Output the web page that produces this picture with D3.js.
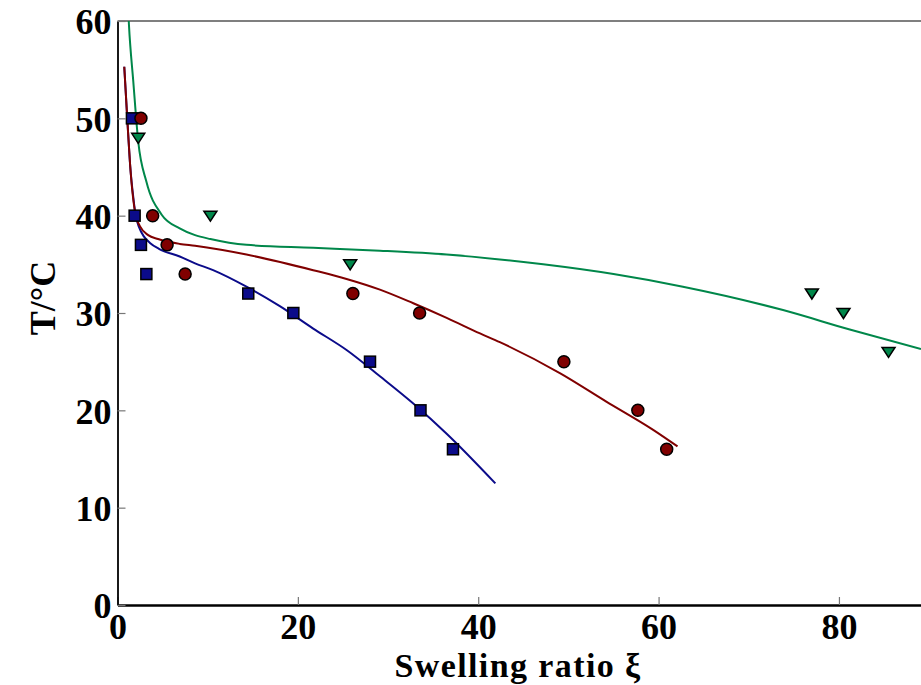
<!DOCTYPE html>
<html lang="en">
<head>
	<meta charset="utf-8">
	<title>Swelling ratio</title>
	<script src="https://d3js.org/d3.v7.min.js"></script>
	<style>
		body {
			margin: 0px;
			padding: 0px;
			background: #fff;
		}

		.tick text {
			font-family: "Liberation Serif", "Times New Roman", serif;
			font-weight: bold;
			font-size: 36px;
			fill: #000;
		}

		.tick line {
			stroke: #777;
			stroke-width: 1.2;
		}

		.axis-title {
			font-family: "Liberation Serif", "Times New Roman", serif;
			font-weight: bold;
			font-size: 36px;
			fill: #000;
		}

		.x-title {
			font-size: 34px;
			letter-spacing: 1.4px;
		}
	</style>
</head>
<body>
	<div id="chart"></div>
	<script>

		// Measured points (xi, T)
		var blueXi = [1.6, 1.9, 2.6, 3.2, 14.5, 19.5, 28.0, 33.6, 37.2];
		var blueT = [50, 40, 37, 34, 32, 30, 25, 20, 16];
		var redXi = [2.6, 3.9, 5.5, 7.5, 26.1, 33.5, 49.5, 57.7, 60.9];
		var redT = [50, 40, 37, 34, 32, 30, 25, 20, 16];
		var greenXi = [2.3, 10.3, 25.8, 77.0, 80.5, 85.5];
		var greenT = [48, 40, 35, 32, 30, 26];

		// Fitted curves
		var blueFitXi = [0.75, 1.1, 1.4, 1.8, 2.0, 2.4, 2.9, 3.6, 4.6, 6.9, 8.6, 10.6, 14.3, 18.0, 21.7, 25.4, 29.1, 32.8, 36.5, 41.9];
		var blueFitT = [55.3, 49.7, 45.2, 41.5, 40.1, 38.8, 37.9, 37.2, 36.6, 35.8, 35.1, 34.4, 32.7, 30.7, 28.4, 26.2, 23.5, 20.7, 17.6, 12.5];
		var redFitXi = [0.75, 1.1, 1.4, 2.0, 2.5, 3.4, 4.5, 6.9, 8.6, 14.3, 21.7, 25.4, 29.1, 32.8, 36.5, 40.2, 42.4, 49.1, 54.2, 59.4, 62.1];
		var redFitT = [55.3, 49.7, 45.2, 40.1, 38.9, 38.0, 37.6, 37.1, 36.9, 36.0, 34.4, 33.5, 32.4, 31.0, 29.5, 27.9, 27.0, 23.8, 20.9, 18.0, 16.3];
		var greenFitXi = [1.22, 1.27, 1.75, 2.3, 3.2, 4.9, 6.9, 8.6, 10.3, 14.3, 21.7, 29.1, 36.5, 42.4, 47.2, 55.0, 62.7, 73.8, 81.2, 89.1];
		var greenFitT = [60.5, 59.6, 53.8, 47.6, 43.5, 40.1, 38.7, 38.0, 37.6, 37.0, 36.7, 36.4, 36.0, 35.5, 35.0, 34.0, 32.7, 30.3, 28.3, 26.3];

		var xTicks = [0, 20, 40, 60, 80];
		var yTicks = [0, 10, 20, 30, 40, 50, 60];

		// Colors
		var color_blue = "#0b0b8a";
		var color_red = "#800000";
		var color_green = "#00874a";

		var width = 921,
			height = 685;
		var plot = { left: 117.5, right: 921, top: 21, bottom: 605 };

		var svg = d3.select("#chart").append("svg")
			.attr("width", width)
			.attr("height", height);

		var x = d3.scaleLinear().domain([0, 89.1]).range([plot.left, plot.right]);
		var y = d3.scaleLinear().domain([0, 60]).range([plot.bottom, plot.top]);

		svg.append("clipPath").attr("id", "clip")
			.append("rect")
			.attr("x", plot.left).attr("y", plot.top)
			.attr("width", plot.right - plot.left).attr("height", plot.bottom - plot.top);

		// top frame line
		svg.append("line")
			.attr("x1", plot.left).attr("x2", plot.right)
			.attr("y1", plot.top).attr("y2", plot.top)
			.attr("stroke", "#000").attr("stroke-width", 1.2);

		// axes
		var xAxis = svg.append("g")
			.attr("transform", "translate(0," + plot.bottom + ")")
			.call(d3.axisBottom(x).tickValues(xTicks).tickSizeInner(-8).tickSizeOuter(0).tickPadding(8));
		xAxis.select(".domain").attr("stroke", "#000").attr("stroke-width", 2.5);

		var yAxis = svg.append("g")
			.attr("transform", "translate(" + plot.left + ",0)")
			.call(d3.axisLeft(y).tickValues(yTicks).tickSizeInner(-8).tickSizeOuter(0).tickPadding(6));
		yAxis.select(".domain").attr("stroke", "#000").attr("stroke-width", 1.8);
		yAxis.selectAll(".tick text").attr("dy", "0.36em");

		// fitted lines
		function fitLine(xs, ys) {
			return d3.line()
				.x(function (d, i) { return x(xs[i]); })
				.y(function (d, i) { return y(ys[i]); })
				.curve(d3.curveMonotoneX)(xs);
		}

		var lines = svg.append("g").attr("clip-path", "url(#clip)");
		[[blueFitXi, blueFitT, color_blue], [redFitXi, redFitT, color_red], [greenFitXi, greenFitT, color_green]]
			.forEach(function (s) {
				lines.append("path")
					.attr("d", fitLine(s[0], s[1]))
					.attr("fill", "none")
					.attr("stroke", s[2])
					.attr("stroke-width", 2);
			});

		// markers
		var marks = svg.append("g");
		marks.selectAll("rect.blue")
			.data(blueXi)
			.enter().append("rect")
			.attr("class", "blue")
			.attr("x", function (d) { return x(d) - 5.5; })
			.attr("y", function (d, i) { return y(blueT[i]) - 5.5; })
			.attr("width", 11).attr("height", 11)
			.attr("fill", color_blue)
			.attr("stroke", "#000").attr("stroke-width", 1.5);

		marks.selectAll("circle.red")
			.data(redXi)
			.enter().append("circle")
			.attr("class", "red")
			.attr("cx", function (d) { return x(d); })
			.attr("cy", function (d, i) { return y(redT[i]); })
			.attr("r", 6)
			.attr("fill", color_red)
			.attr("stroke", "#000").attr("stroke-width", 1.5);

		marks.selectAll("path.green")
			.data(greenXi)
			.enter().append("path")
			.attr("class", "green")
			.attr("d", "M-6.5,-4.5L6.5,-4.5L0,5.5Z")
			.attr("transform", function (d, i) { return "translate(" + x(d) + "," + y(greenT[i]) + ")"; })
			.attr("fill", color_green)
			.attr("stroke", "#000").attr("stroke-width", 1.5);

		// axis titles
		svg.append("text")
			.attr("class", "axis-title x-title")
			.attr("x", 518)
			.attr("y", 677)
			.attr("text-anchor", "middle")
			.text("Swelling ratio ξ");

		svg.append("text")
			.attr("class", "axis-title")
			.attr("transform", "translate(55,298) rotate(-90)")
			.attr("text-anchor", "middle")
			.text("T/°C");

	</script>
</body>
</html>
